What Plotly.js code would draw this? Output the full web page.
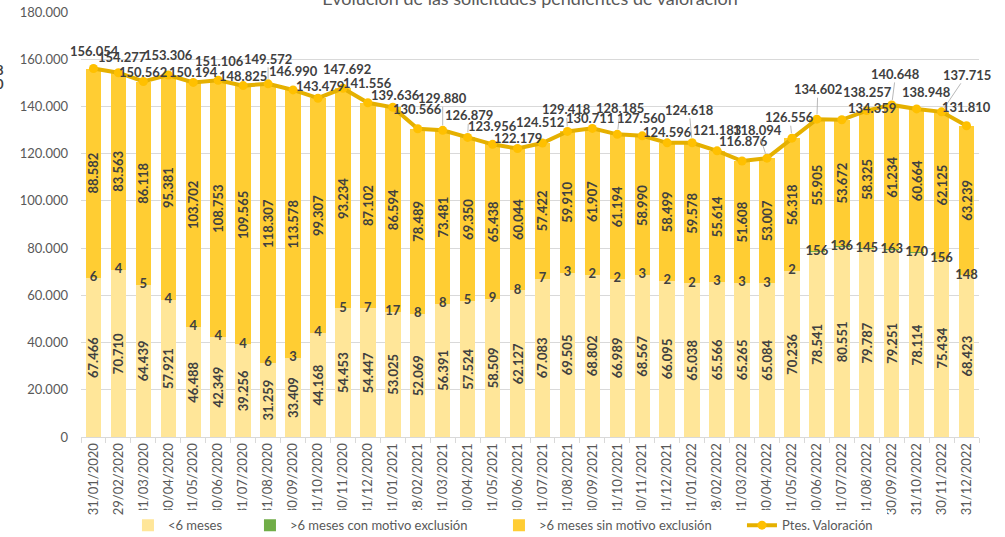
<!DOCTYPE html>
<html>
<head>
<meta charset="utf-8">
<script src="https://cdn.plot.ly/plotly-3.0.1.min.js"></script>
<style>
html,body{margin:0;padding:0;background:#fff;}
#chart{width:1005px;height:537px;}
</style>
</head>
<body>
<div id="chart"></div>
<script>
const categories = ["31/01/2020","29/02/2020","31/03/2020","30/04/2020","31/05/2020","30/06/2020","31/07/2020","31/08/2020","30/09/2020","31/10/2020","30/11/2020","31/12/2020",
"31/01/2021","28/02/2021","31/03/2021","30/04/2021","31/05/2021","30/06/2021","31/07/2021","31/08/2021","30/09/2021","31/10/2021","30/11/2021","31/12/2021",
"31/01/2022","28/02/2022","31/03/2022","30/04/2022","31/05/2022","30/06/2022","31/07/2022","31/08/2022","30/09/2022","31/10/2022","30/11/2022","31/12/2022"];

const menos6 = [67466,70710,64439,57921,46488,42349,39256,31259,33409,44168,54453,54447,
53025,52069,56391,57524,58509,62127,67083,69505,68802,66989,68567,66095,
65038,65566,65265,65084,70236,78541,80551,79787,79251,78114,75434,68423];

const conExclusion = [6,4,5,4,4,4,4,6,3,4,5,7,
17,8,8,5,9,8,7,3,2,2,3,2,
2,3,3,3,2,156,136,145,163,170,156,148];

const sinExclusion = [88582,83563,86118,95381,103702,108753,109565,118307,113578,99307,93234,87102,
86594,78489,73481,69350,65438,60044,57422,59910,61907,61194,58990,58499,
59578,55614,51608,53007,56318,55905,53672,58325,61234,60664,62125,63239];

const ptesValoracion = [156054,154277,150562,153306,150194,151106,148825,149572,146990,143479,147692,141556,
139636,130566,129880,126879,123956,122179,124512,129418,130711,128185,127560,124596,
124618,121183,116876,118094,126556,134602,134359,138257,140648,138948,137715,131810];

const seriesNames = ["<6 meses", ">6 meses con motivo exclusión", ">6 meses sin motivo exclusión", "Ptes. Valoración"];
const chartTitle = "Evolución de las solicitudes pendientes de valoración";

// label placement (pixel offsets from the point: dx, dy, leader line)
const labelPos = [
[1,-18,0],[4,-16,0],[0,-10,0],[0,-20,0],[0,-10,0],[1,-19,0],[0,-10,0],[0,-25,1],[0,-19,0],[2,-12,0],[4,-19,0],[0,-20,0],
[3,-12,0],[0,-20,0],[0,-32,1],[1,-22,1],[0,-18,0],[0,-11,0],[-2,-21,0],[-1,-22,1],[-2,-10,0],[3,-26,1],[-1,-18,0],[0,-11,0],
[-3,-33,1],[0,-21,0],[1,-20,0],[-9,-28,1],[-2,-21,1],[1,-30,1],[30,-12,0],[1,-19,0],[4,-31,1],[10,-17,0],[25,-37,1],[0,-19,0]
];
// legend entry widths (spacing)
const legendWidths = [77, 204, 198, 100];

const FONT = 'Lato, "Open Sans", sans-serif';
const C_LIGHT = '#FFE699';
const C_GREEN = '#70AD47';
const C_GOLD = '#FFCD33';
const C_LINE = '#E5B000';
const C_MARK = '#FFC000';
const C_LABEL = '#404040';

const barText = {family: FONT, size: 13, color: C_LABEL, weight: 'bold'};

const traces = [
  {type:'bar', name: seriesNames[0], x: categories, y: menos6, marker:{color:C_LIGHT},
   texttemplate:'%{y:,}', textposition:'inside', insidetextanchor:'middle', textangle:-90,
   constraintext:'none', textfont: barText, legendwidth: legendWidths[0]},
  {type:'bar', name: seriesNames[1], x: categories, y: conExclusion, marker:{color:C_GREEN},
   textposition:'none', legendwidth: legendWidths[1]},
  {type:'bar', name: seriesNames[2], x: categories, y: sinExclusion, marker:{color:C_GOLD},
   texttemplate:'%{y:,}', textposition:'inside', insidetextanchor:'middle', textangle:-90,
   constraintext:'none', textfont: barText, legendwidth: legendWidths[2]},
  {type:'scatter', mode:'lines+markers', name: seriesNames[3], x: categories, y: ptesValoracion,
   line:{color:C_LINE, width:4}, marker:{color:C_MARK, size:9, line:{width:0}}, legendwidth: legendWidths[3]},
  {type:'scatter', mode:'text', showlegend:false, hoverinfo:'skip', x: categories,
   y: menos6.map((v,i)=>v+conExclusion[i]/2), text: conExclusion.map(v=>String(v)),
   textposition:'middle center', textfont: barText}
];

const fmt = v => v.toString().replace(/\B(?=(\d{3})+(?!\d))/g, '.');

const annotations = ptesValoracion.map((v,i)=>{
  const p = labelPos[i];
  const base = {x: categories[i], y: v, xref:'x', yref:'y', text: fmt(v),
    font:{family: FONT, size: 13, color: C_LABEL, weight: 'bold'}};
  if (p[2]) {
    return Object.assign(base, {showarrow:true, ax:p[0], ay:p[1], arrowhead:0, arrowwidth:0.8,
      arrowcolor:'#A6A6A6', standoff:5, borderpad:0});
  }
  return Object.assign(base, {showarrow:false, xshift:p[0], yshift:-p[1]});
});

// partially cropped labels at the left edge
annotations.push({xref:'paper', yref:'y', x:-0.09, y:155400, text:'8', showarrow:false, xanchor:'center',
  font:{family:FONT, size:13, color:C_LABEL, weight:'bold'}});
annotations.push({xref:'paper', yref:'y', x:-0.09, y:149500, text:'0', showarrow:false, xanchor:'center',
  font:{family:FONT, size:13, color:C_LABEL, weight:'bold'}});

const layout = {
  width:1005, height:537,
  margin:{l:81, r:26, t:12, b:100, pad:0},
  paper_bgcolor:'#fff', plot_bgcolor:'#fff',
  separators:',.',
  barmode:'stack', bargap:0.38,
  font:{family:FONT, color:'#595959'},
  title:{text: chartTitle, x:0.5, xanchor:'center', xref:'paper', yref:'container', y:0.99, yanchor:'bottom',
    font:{family:FONT, size:18, color:'#595959'}},
  xaxis:{type:'category', range:[-0.5, categories.length-0.5], autorange:false,
    tickangle:-90, tickfont:{family:FONT, size:13, color:'#595959'},
    ticks:'outside', tickson:'boundaries', ticklen:5, tickcolor:'#D9D9D9',
    showline:true, linecolor:'#D9D9D9', linewidth:1, showgrid:false, fixedrange:true},
  yaxis:{range:[0,180000], autorange:false, dtick:20000, tickformat:',d', tickfont:{family:FONT, size:13, color:'#595959'},
    showgrid:true, gridcolor:'#D9D9D9', gridwidth:1, zeroline:false, showline:false, ticks:'',
    ticklabelstandoff:12, fixedrange:true},
  legend:{orientation:'h', x:0.0523, xanchor:'left', yref:'container', y:0.022, yanchor:'middle',
    traceorder:'normal', font:{family:FONT, size:13, color:'#595959'}, itemwidth:30},
  annotations: annotations,
  showlegend:true
};

Plotly.newPlot('chart', traces, layout, {displayModeBar:false, staticPlot:true});
</script>
</body>
</html>
